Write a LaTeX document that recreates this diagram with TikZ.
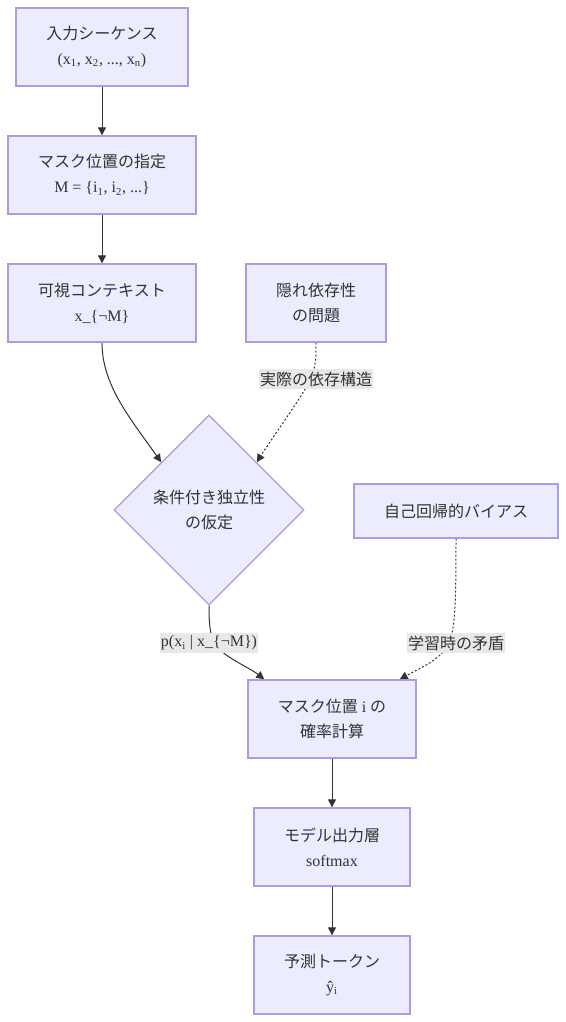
\documentclass[tikz,border=0pt]{standalone}
\usepackage{fontspec}
\setmainfont{Liberation Serif}
\newfontfamily\jp{Noto Sans CJK JP}
\usetikzlibrary{shapes.geometric,arrows.meta,backgrounds,calc}
\definecolor{boxfill}{HTML}{ECECFF}
\definecolor{boxline}{HTML}{AC9BE0}
\definecolor{txt}{HTML}{333333}
\definecolor{lblbg}{HTML}{E8E8E8}
\begin{document}
\begin{tikzpicture}[x=0.75pt,y=-0.75pt,
  base/.style={draw=boxline, fill=boxfill, line width=1pt, align=center,
    text=txt, font=\fontsize{12}{18.75}\selectfont, inner sep=0pt},
  flowbox/.style 2 args={base, rectangle, minimum width={#1*0.75pt}, minimum height={#2*0.75pt}},
  decision/.style={base, diamond, aspect=1, minimum width={190*0.75pt}, minimum height={190*0.75pt}},
  edgelbl/.style={fill=lblbg, text=txt, inner xsep=0.5pt, inner ysep=2pt,
    font=\fontsize{12}{14}\selectfont},
  link/.style={draw=txt, line width=0.75pt, -{Triangle[length=6pt,width=6pt]}},
  dotlink/.style={link, dash pattern=on 1.5pt off 1.5pt}
]
\useasboundingbox (0,0) rectangle (566,1022);

\node[flowbox={172}{78}] (inp) at (102,47) {{\jp 入力シーケンス}\\(x\textsubscript{1}, x\textsubscript{2}, ..., x\textsubscript{n})};
\node[flowbox={188}{78}] (mask) at (102,175) {{\jp マスク位置の指定}\\M = \{i\textsubscript{1}, i\textsubscript{2}, ...\}};
\node[flowbox={188}{78}] (vis) at (102,303) {{\jp 可視コンテキスト}\\x\_\{¬M\}};
\node[flowbox={140}{78}] (hid) at (316,303) {{\jp 隠れ依存性}\\{\jp の問題}};
\node[decision] (cond) at (209,510) {{\jp 条件付き独立性}\\{\jp の仮定}};
\node[flowbox={204}{54}] (ar) at (456,511) {{\jp 自己回帰的バイアス}};
\node[flowbox={168}{78}] (prob) at (332,719) {{\jp マスク位置} i {\jp の}\\{\jp 確率計算}};
\node[flowbox={156}{78}] (model) at (332,847) {{\jp モデル出力層}\\softmax};
\node[flowbox={156}{78}] (pred) at (332,975) {{\jp 予測トークン}\\ŷ\textsubscript{i}};

\node[edgelbl] (l1) at (316,379) {\jp 実際の依存構造};
\node[edgelbl] (l2) at (209,643) {p(x\textsubscript{i} | x\_\{¬M\})};
\node[edgelbl] (l3) at (456,643) {\jp 学習時の矛盾};

\begin{scope}[on background layer]
\draw[link] (inp.south) -- (mask.north);
\draw[link] (mask.south) -- (vis.north);
\draw[link] (vis.south) .. controls (102,385) and (130,418) .. (cond.north west);
\draw[dotlink] (hid.south) .. controls (316,360) and (316,366) .. (310,380)
  .. controls (304,394) and (272,438) .. (cond.north east);
\draw[link] (cond.south) .. controls (209,630) and (211,640) .. (218,648)
  .. controls (230,660) and (250,668) .. ($(prob.north west)!0.1!(prob.north east)$);
\draw[dotlink] (ar.south) .. controls (456,610) and (455,630) .. (448,645)
  .. controls (440,660) and (420,668) .. ($(prob.north west)!0.9!(prob.north east)$);
\draw[link] (prob.south) -- (model.north);
\draw[link] (model.south) -- (pred.north);
\end{scope}
\end{tikzpicture}
\end{document}
